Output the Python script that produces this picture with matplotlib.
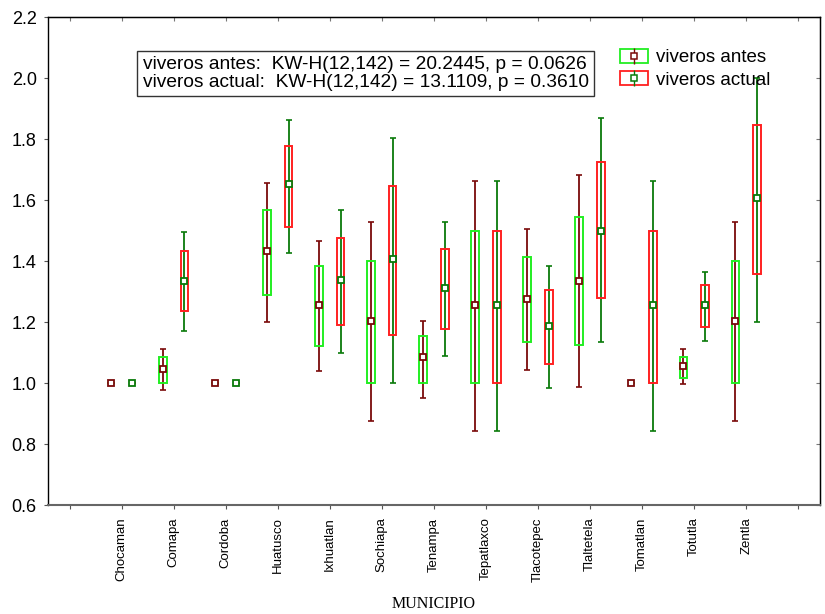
import matplotlib
matplotlib.use("Agg")
import matplotlib.pyplot as plt
from matplotlib.patches import Rectangle
from matplotlib.lines import Line2D
from matplotlib.legend_handler import HandlerTuple
import numpy as np

municipios = ["Chocaman", "Comapa", "Cordoba", "Huatusco", "Ixhuatlan", "Sochiapa",
              "Tenampa", "Tepatlaxco", "Tlacotepec", "Tlaltetela", "Tomatlan", "Totutla", "Zentla"]

# viveros antes
antes_mid = [1.0, 1.046, 1.0, 1.433, 1.255, 1.203, 1.085, 1.256, 1.275, 1.334, 1.0, 1.056, 1.203]
antes_q1  = [1.0, 1.0,   1.0, 1.29,  1.12,  1.0,   1.0,   1.0,   1.134, 1.125, 1.0, 1.016, 1.0]
antes_q3  = [1.0, 1.085, 1.0, 1.567, 1.384, 1.40,  1.154, 1.50,  1.413, 1.544, 1.0, 1.085, 1.40]
antes_lo  = [1.0, 0.977, 1.0, 1.20,  1.04,  0.875, 0.95,  0.843, 1.043, 0.987, 1.0, 0.997, 0.875]
antes_hi  = [1.0, 1.11,  1.0, 1.656, 1.466, 1.528, 1.203, 1.662, 1.505, 1.682, 1.0, 1.11,  1.528]

# viveros actual
actual_mid = [1.0, 1.334, 1.0, 1.652, 1.337, 1.405, 1.31,  1.256, 1.187, 1.50,  1.255, 1.255, 1.607]
actual_q1  = [1.0, 1.236, 1.0, 1.511, 1.19,  1.157, 1.177, 1.0,   1.062, 1.279, 1.0,   1.184, 1.357]
actual_q3  = [1.0, 1.433, 1.0, 1.777, 1.475, 1.646, 1.44,  1.50,  1.305, 1.725, 1.50,  1.32,  1.846]
actual_lo  = [1.0, 1.17,  1.0, 1.426, 1.10,  1.0,   1.09,  0.843, 0.984, 1.134, 0.843, 1.138, 1.20]
actual_hi  = [1.0, 1.495, 1.0, 1.862, 1.567, 1.803, 1.528, 1.662, 1.384, 1.869, 1.662, 1.364, 2.0]

yticks = [0.6, 0.8, 1.0, 1.2, 1.4, 1.6, 1.8, 2.0, 2.2]
stats_text = ("viveros antes:  KW-H(12,142) = 20.2445, p = 0.0626\n"
              "viveros actual:  KW-H(12,142) = 13.1109, p = 0.3610")

ANTES_BOX, ANTES_WH = '#22ee22', '#7a0a0a'
ACTUAL_BOX, ACTUAL_WH = '#ff2020', '#0a7a0a'

plt.rcParams['font.family'] = ['Liberation Sans', 'DejaVu Sans']

fig = plt.figure(figsize=(8.25, 6.14), dpi=100)
ax = fig.add_axes([0.058, 0.1775, 0.936, 0.7948])

x = np.arange(1, len(municipios) + 1)
off = 0.205
bw = 0.15

series = [
    (x - off, antes_mid, antes_q1, antes_q3, antes_lo, antes_hi, ANTES_BOX, ANTES_WH),
    (x + off, actual_mid, actual_q1, actual_q3, actual_lo, actual_hi, ACTUAL_BOX, ACTUAL_WH),
]
for xs, mid, q1, q3, lo, hi, boxc, whc in series:
    mid = np.array(mid); q1 = np.array(q1); q3 = np.array(q3)
    lo = np.array(lo); hi = np.array(hi)
    ax.errorbar(xs, mid, yerr=[mid - lo, hi - mid], fmt='none', ecolor=whc,
                elinewidth=1.3, capsize=2.5, capthick=1.2, zorder=2)
    ax.bar(xs, q3 - q1, bottom=q1, width=bw, fill=False, edgecolor=boxc,
           linewidth=1.4, zorder=3)
    ax.plot(xs, mid, linestyle='none', marker='s', markersize=5,
            markerfacecolor='white', markeredgecolor=whc, markeredgewidth=1.3, zorder=4)

ax.set_xlim(-0.42, 14.42)
ax.set_ylim(0.6, 2.2)
ax.set_xticks(np.arange(0, 15))
ax.set_xticklabels([''] + municipios + [''], rotation=90, fontsize=9.5)
ax.set_yticks(yticks)
ax.set_yticklabels([f"{v:.1f}" for v in yticks], fontsize=13)
ax.tick_params(axis='both', direction='out', length=3, color='#555555')
ax.tick_params(axis='x', pad=6)
ax.tick_params(axis='y', pad=5)
ax.set_xlabel("MUNICIPIO", family=['Liberation Serif'], fontsize=11.5, labelpad=10)

sec_top = ax.secondary_xaxis('top')
sec_top.set_xticks(np.arange(0, 15))
sec_top.tick_params(direction='in', length=3, labeltop=False, color='#777777')
sec_right = ax.secondary_yaxis('right')
sec_right.set_yticks(yticks)
sec_right.tick_params(direction='in', length=3, labelright=False, color='#777777')

for s in ax.spines.values():
    s.set_color('black')
    s.set_linewidth(1.0)
ax.spines['bottom'].set_color('#666666')
ax.spines['bottom'].set_linewidth(1.5)

ax.text(0.123, 0.920, stats_text, transform=ax.transAxes, fontsize=13.8,
        va='top', ha='left', linespacing=1.08,
        bbox=dict(boxstyle='square,pad=0.28', facecolor='white', edgecolor='#333333', linewidth=1))

def legend_handle(boxc, whc):
    return (Rectangle((0, 0), 1, 1, fill=False, edgecolor=boxc, linewidth=1.3),
            Line2D([], [], linestyle='none', marker='|', markersize=11,
                   markeredgecolor=whc, markeredgewidth=1.0),
            Line2D([], [], linestyle='none', marker='s', markersize=4, markerfacecolor='white',
                   markeredgecolor=whc, markeredgewidth=1.1))

ax.legend([legend_handle(ANTES_BOX, ANTES_WH), legend_handle(ACTUAL_BOX, ACTUAL_WH)],
          ["viveros antes", "viveros actual"],
          handler_map={tuple: HandlerTuple(ndivide=1, pad=0)},
          loc='upper left', bbox_to_anchor=(0.741, 0.935), frameon=False,
          fontsize=13.5, handlelength=1.5, handleheight=0.8, handletextpad=0.4,
          labelspacing=0.25, borderaxespad=0, borderpad=0)

fig.savefig("out.png", dpi=100)
